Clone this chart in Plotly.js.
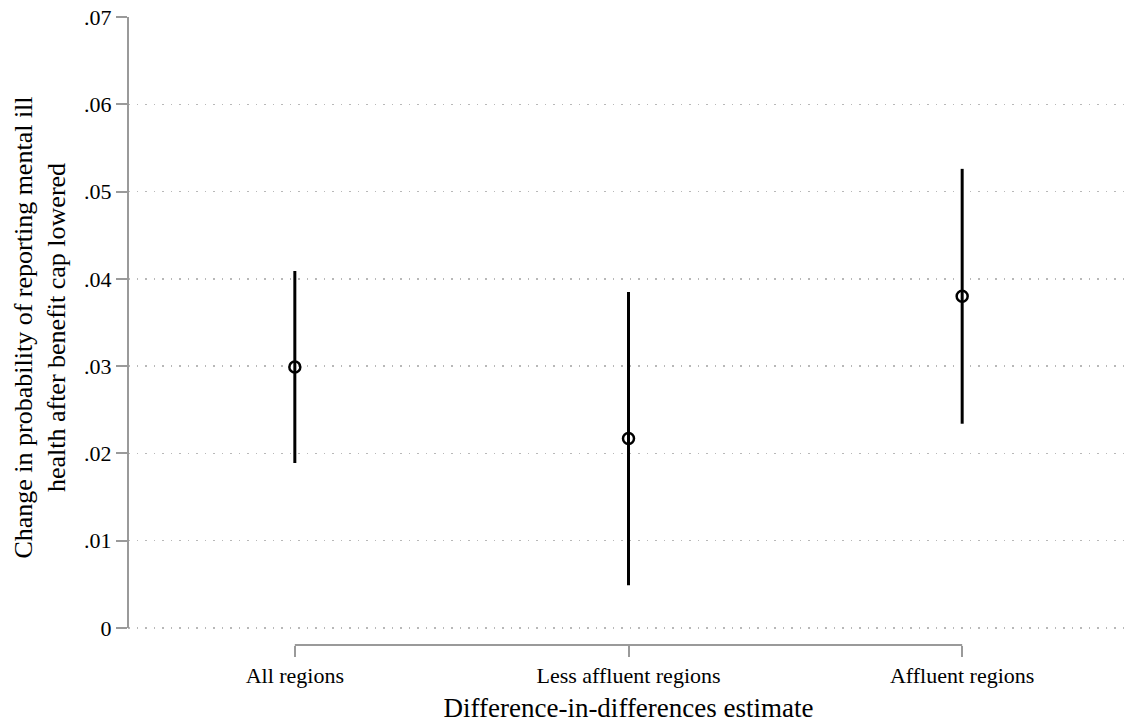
<!DOCTYPE html>
<html>
<head>
<meta charset="utf-8">
<script src="https://cdn.plot.ly/plotly-3.0.1.min.js"></script>
<style>html,body{margin:0;padding:0;background:#fff;}#chart{width:1129px;height:728px;}</style>
</head>
<body>
<div id="chart"></div>
<script>
// ---- data ----
const categories = ["All regions", "Less affluent regions", "Affluent regions"];
const estimates = [0.0299, 0.0217, 0.0380];
const ciLower = [0.0189, 0.0049, 0.0234];
const ciUpper = [0.0409, 0.0385, 0.0526];
const yTickVals = [0, 0.01, 0.02, 0.03, 0.04, 0.05, 0.06, 0.07];
const yTickLabels = ["0", ".01", ".02", ".03", ".04", ".05", ".06", ".07"];
const gridVals = [0, 0.01, 0.02, 0.03, 0.04, 0.05, 0.06];

const xIdx = categories.map((c, i) => i);
const FONT = "Liberation Serif, Times New Roman, serif";
const AXIS_GRAY = "#9a9a9a";
const yRange = [-0.00195, 0.0708];

const trace = {
  type: "scatter",
  mode: "markers",
  x: xIdx,
  y: estimates,
  marker: {symbol: "circle-open", size: 11, color: "#000", line: {width: 2.5, color: "#000"}},
  error_y: {
    type: "data",
    symmetric: false,
    array: estimates.map((v, i) => ciUpper[i] - v),
    arrayminus: estimates.map((v, i) => v - ciLower[i]),
    width: 0,
    thickness: 3,
    color: "#000"
  },
  showlegend: false,
  hoverinfo: "skip"
};

const gridTrace = {
  type: "scatter", mode: "markers", x: [xIdx[0]], y: [gridVals[0]],
  yaxis: "y2", marker: {opacity: 0}, showlegend: false, hoverinfo: "skip"
};

const layout = {
  width: 1129,
  height: 728,
  margin: {l: 128, r: 0, t: 10, b: 83},
  paper_bgcolor: "#fff",
  plot_bgcolor: "#fff",
  font: {family: FONT, color: "#000", size: 22},
  showlegend: false,
  xaxis: {
    range: [-0.5, xIdx.length - 0.5],
    tickvals: xIdx,
    ticktext: categories,
    ticks: "outside",
    ticklen: 11,
    tickwidth: 2,
    tickcolor: AXIS_GRAY,
    showline: false,
    showgrid: false,
    zeroline: false,
    tickfont: {family: FONT, size: 22, color: "#000"},
    title: {text: "Difference-in-differences estimate", font: {family: FONT, size: 27, color: "#000"}, standoff: 10},
    fixedrange: true
  },
  yaxis: {
    range: yRange,
    tickvals: yTickVals,
    ticktext: yTickLabels,
    ticks: "outside",
    ticklen: 11,
    tickwidth: 2,
    tickcolor: AXIS_GRAY,
    showline: false,
    showgrid: false,
    zeroline: false,
    tickfont: {family: FONT, size: 22, color: "#000"},
    title: {text: "Change in probability of reporting mental ill<br>health after benefit cap lowered", font: {family: FONT, size: 26, color: "#000"}, standoff: 10},
    fixedrange: true
  },
  yaxis2: {
    range: yRange,
    overlaying: "y",
    tickvals: gridVals,
    showticklabels: false,
    ticks: "",
    showgrid: true,
    griddash: "1.5px,7px",
    gridcolor: "#b8b8b8",
    gridwidth: 1.5,
    zeroline: false,
    showline: false,
    fixedrange: true
  },
  shapes: [
    {type: "line", xref: "paper", x0: 0, x1: 0, yref: "y", y0: yTickVals[0], y1: yTickVals[yTickVals.length - 1],
     line: {color: AXIS_GRAY, width: 2}, layer: "above"},
    {type: "line", xref: "x", x0: xIdx[0], x1: xIdx[xIdx.length - 1], yref: "paper", y0: 0, y1: 0,
     line: {color: AXIS_GRAY, width: 2}, layer: "above"}
  ]
};

Plotly.newPlot("chart", [gridTrace, trace], layout, {displayModeBar: false, staticPlot: true});
</script>
</body>
</html>
